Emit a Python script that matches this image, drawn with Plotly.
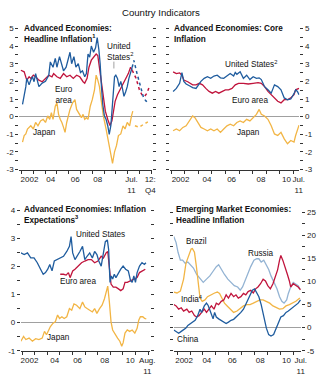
import plotly.graph_objects as go

W, H = 329, 389
FONT = "Liberation Sans, Arial, sans-serif"

BLUE = "#1f5c9e"
RED = "#c0143c"
ORANGE = "#f2b545"
LIGHTBLUE = "#93b3d3"

# ---------------- Panel 1: headline inflation (year, % y/y) ----------------
p1_us = [(2002.08, 0.69), (2002.22, 1.15), (2002.36, 1.7), (2002.44, 2.17), (2002.64, 1.8), (2002.78, 2.07),
         (2002.92, 2.26), (2003.06, 1.98), (2003.19, 2.44), (2003.47, 1.7), (2003.75, 1.9), (2004.03, 2.0),
         (2004.31, 2.35), (2004.44, 3.1), (2004.67, 2.8), (2004.86, 3.3), (2005.0, 2.8), (2005.22, 3.4),
         (2005.42, 3.0), (2005.56, 2.6), (2005.78, 2.8), (2005.97, 3.4), (2006.11, 3.65), (2006.25, 3.0),
         (2006.44, 3.4), (2006.61, 2.8), (2006.81, 3.0), (2007.0, 2.5), (2007.17, 2.6), (2007.36, 2.26),
         (2007.5, 2.44), (2007.64, 3.55), (2007.78, 3.37), (2007.92, 4.0), (2008.11, 3.65), (2008.28, 3.9),
         (2008.42, 4.48), (2008.56, 3.8), (2008.67, 3.0), (2008.78, 1.7), (2008.89, 0.7), (2009.03, 0.04),
         (2009.17, -0.15), (2009.31, -0.5), (2009.44, -1.0), (2009.58, -0.5), (2009.67, 0.2), (2009.78, 1.5),
         (2009.89, 2.26), (2010.0, 2.35), (2010.14, 2.17), (2010.28, 1.7), (2010.42, 2.0), (2010.56, 1.6),
         (2010.69, 1.15), (2010.83, 1.4), (2010.97, 1.7), (2011.11, 2.17), (2011.25, 2.54), (2011.39, 2.8)]
p1_ea = [(2001.94, 2.63), (2002.22, 2.54), (2002.44, 2.07), (2002.64, 2.26), (2002.78, 2.17), (2003.0, 2.35),
         (2003.19, 2.26), (2003.47, 2.07), (2003.75, 1.98), (2004.03, 2.17), (2004.31, 2.35), (2004.58, 2.26),
         (2004.72, 2.44), (2005.0, 2.26), (2005.28, 2.17), (2005.56, 2.44), (2005.83, 2.26), (2006.11, 2.35),
         (2006.39, 2.17), (2006.67, 2.35), (2006.94, 2.26), (2007.22, 1.98), (2007.36, 1.9), (2007.56, 2.17),
         (2007.72, 2.8), (2007.92, 3.2), (2008.11, 3.37), (2008.33, 3.55), (2008.47, 3.46), (2008.61, 2.8),
         (2008.75, 2.07), (2008.94, 0.96), (2009.11, 0.31), (2009.31, -0.15), (2009.5, -0.5), (2009.67, -0.24),
         (2009.78, 0.22), (2009.94, 0.87), (2010.14, 1.24), (2010.33, 1.5), (2010.5, 1.7), (2010.69, 1.9),
         (2010.89, 2.17), (2011.06, 2.44), (2011.25, 2.8), (2011.39, 2.63)]
p1_jp = [(2002.08, -1.44), (2002.22, -1.07), (2002.36, -0.98), (2002.5, -0.7), (2002.78, -0.52), (2003.0, -0.7),
         (2003.19, -0.33), (2003.39, -0.52), (2003.61, -0.24), (2003.83, -0.15), (2004.03, -0.33), (2004.22, 0.04),
         (2004.39, -0.15), (2004.53, 0.22), (2004.67, -0.15), (2004.86, 0.59), (2005.0, 0.78), (2005.14, 0.13),
         (2005.28, -0.15), (2005.42, -0.33), (2005.56, -0.61), (2005.69, -0.89), (2005.83, -0.33), (2005.97, 0.04),
         (2006.11, 0.41), (2006.33, 0.78), (2006.53, 0.96), (2006.67, 0.41), (2006.81, 0.22), (2006.94, 0.04),
         (2007.08, -0.06), (2007.22, 0.13), (2007.36, -0.15), (2007.5, -0.06), (2007.64, -0.15), (2007.83, 0.59),
         (2008.0, 0.96), (2008.19, 1.52), (2008.33, 2.35), (2008.47, 2.07), (2008.61, 1.7), (2008.75, 0.96),
         (2008.94, 0.04), (2009.17, -0.7), (2009.39, -1.44), (2009.58, -2.0), (2009.72, -2.65), (2009.89, -2.0),
         (2010.06, -1.63), (2010.22, -1.07), (2010.42, -0.98), (2010.61, -0.52), (2010.78, -0.7), (2010.97, -0.33),
         (2011.17, -0.52), (2011.33, 0.04), (2011.44, 0.31)]
p1_us_fc = [(2011.39, 2.8), (2011.53, 3.19), (2011.8, 2.44), (2012.08, 1.7), (2012.36, 1.06), (2012.58, 0.87),
            (2012.8, 0.96)]
p1_ea_fc = [(2011.39, 2.63), (2011.72, 2.17), (2012.0, 1.52), (2012.22, 1.24), (2012.44, 1.15), (2012.64, 1.33),
            (2012.85, 1.7)]
p1_jp_fc = [(2011.62, -0.52), (2012.0, -0.6), (2012.36, -0.43), (2012.72, -0.3)]
p1_xticks = [2002.67, 2004.47, 2006.56, 2008.46, 2011.33, 2012.92]
p1_xlabels = ["2002", "04", "06", "08", "Jul.<br>11", "12:<br>Q4"]

# ---------------- Panel 2: core inflation ----------------
p2_us = [(2002.14, 1.43), (2002.26, 1.52), (2002.38, 1.6), (2002.62, 1.89), (2002.79, 2.5), (2002.93, 2.0),
         (2003.1, 1.85), (2003.34, 1.75), (2003.58, 1.65), (2003.83, 1.6), (2003.95, 1.75), (2004.19, 2.0),
         (2004.43, 2.17), (2004.67, 2.26), (2004.91, 2.17), (2005.15, 2.3), (2005.39, 2.35), (2005.63, 2.2),
         (2005.87, 2.17), (2006.11, 2.3), (2006.35, 2.44), (2006.6, 2.3), (2006.72, 2.5), (2006.84, 2.4),
         (2007.08, 2.54), (2007.32, 2.17), (2007.56, 2.35), (2007.8, 2.1), (2008.04, 2.26), (2008.28, 2.17),
         (2008.48, 2.2), (2008.64, 2.1), (2008.88, 1.7), (2009.13, 1.52), (2009.37, 1.33), (2009.61, 1.8),
         (2009.85, 1.7), (2010.09, 1.52), (2010.33, 1.06), (2010.57, 0.96), (2010.81, 1.0), (2011.05, 1.3),
         (2011.17, 1.52), (2011.3, 1.43), (2011.42, 1.24)]
p2_ea = [(2002.14, 2.54), (2002.38, 2.44), (2002.62, 2.48), (2002.79, 2.35), (2002.93, 2.07), (2003.22, 1.98),
         (2003.58, 1.8), (2003.83, 1.8), (2004.07, 1.89), (2004.31, 1.8), (2004.55, 1.6), (2004.79, 1.43),
         (2005.03, 1.33), (2005.27, 1.43), (2005.51, 1.33), (2005.75, 1.43), (2005.99, 1.52), (2006.23, 1.52),
         (2006.48, 1.6), (2006.72, 1.8), (2006.96, 1.89), (2007.32, 1.89), (2007.68, 1.85), (2008.04, 1.89),
         (2008.4, 1.93), (2008.64, 1.89), (2008.88, 1.7), (2009.13, 1.43), (2009.37, 1.24), (2009.61, 1.06),
         (2009.85, 0.87), (2010.09, 0.78), (2010.33, 0.96), (2010.57, 0.96), (2010.81, 1.06), (2011.05, 1.24),
         (2011.17, 1.52), (2011.42, 1.6)]
p2_jp = [(2002.14, -0.8), (2002.38, -0.7), (2002.62, -0.8), (2002.86, -0.61), (2003.1, -0.52), (2003.34, -0.24),
         (2003.58, 0.04), (2003.75, -0.06), (2003.95, -0.33), (2004.19, -0.61), (2004.43, -0.7), (2004.67, -0.8),
         (2004.91, -0.7), (2005.15, -0.8), (2005.39, -0.7), (2005.63, -0.89), (2005.87, -0.7), (2006.11, -0.52),
         (2006.35, -0.43), (2006.6, -0.52), (2006.84, -0.33), (2007.08, -0.24), (2007.32, -0.33), (2007.56, -0.15),
         (2007.8, -0.24), (2008.04, -0.06), (2008.28, 0.13), (2008.48, 0.41), (2008.64, 0.13), (2008.88, 0.04),
         (2009.13, -0.15), (2009.37, -0.52), (2009.61, -0.98), (2009.85, -1.07), (2010.09, -0.89), (2010.33, -1.26),
         (2010.57, -1.54), (2010.81, -1.35), (2011.05, -1.44), (2011.17, -1.07), (2011.3, -0.7), (2011.42, -0.48)]
p2_xticks = [2002.69, 2004.64, 2006.45, 2008.62, 2010.5, 2011.4]
p2_xlabels = ["2002", "04", "06", "08", "10", "Jul.<br>11"]

# ---------------- Panel 3: inflation expectations ----------------
p3_us = [(2001.9, 2.48), (2002.16, 2.42), (2002.42, 2.48), (2002.68, 2.3), (2002.94, 2.3), (2003.2, 2.13),
         (2003.46, 1.9), (2003.67, 1.72), (2003.85, 1.78), (2004.03, 1.9), (2004.19, 2.07), (2004.37, 1.84),
         (2004.55, 2.19), (2004.76, 2.24), (2005.02, 2.3), (2005.28, 2.36), (2005.54, 2.53), (2005.75, 2.71),
         (2005.88, 3.06), (2006.01, 2.48), (2006.19, 2.24), (2006.37, 2.36), (2006.58, 2.53), (2006.79, 2.71),
         (2006.97, 2.24), (2007.15, 2.36), (2007.36, 2.48), (2007.57, 2.3), (2007.75, 2.53), (2007.93, 2.42),
         (2008.08, 2.19), (2008.27, 2.01), (2008.45, 2.48), (2008.6, 2.88), (2008.76, 2.94), (2008.86, 2.6),
         (2008.97, 1.43), (2009.07, 1.66), (2009.18, 1.55), (2009.31, 1.72), (2009.44, 1.6), (2009.64, 1.78),
         (2009.82, 1.9), (2010.01, 2.01), (2010.21, 1.9), (2010.42, 1.84), (2010.6, 1.49), (2010.73, 1.43),
         (2010.86, 1.66), (2010.99, 1.43), (2011.12, 1.78), (2011.31, 2.01), (2011.51, 2.13), (2011.7, 2.07),
         (2011.82, 2.13)]
p3_ea = [(2005.02, 1.72), (2005.28, 1.72), (2005.49, 1.69), (2005.67, 1.78), (2005.8, 1.6), (2006.01, 1.84),
         (2006.19, 1.9), (2006.45, 2.01), (2006.71, 2.13), (2006.97, 2.19), (2007.23, 2.24), (2007.49, 2.24),
         (2007.75, 2.13), (2008.01, 2.19), (2008.27, 2.36), (2008.45, 2.3), (2008.66, 2.48), (2008.79, 2.53),
         (2008.92, 2.01), (2009.05, 1.37), (2009.23, 1.26), (2009.44, 1.26), (2009.64, 1.2), (2009.82, 1.14),
         (2010.01, 1.2), (2010.16, 1.43), (2010.34, 1.43), (2010.6, 1.49), (2010.86, 1.55), (2011.12, 1.6),
         (2011.31, 1.78), (2011.51, 1.84), (2011.77, 1.9)]
p3_jp = [(2001.9, -0.66), (2002.11, -0.49), (2002.29, -0.6), (2002.55, -0.55), (2002.81, -0.66), (2003.07, -0.57),
         (2003.33, -0.6), (2003.59, -0.55), (2003.77, -0.31), (2003.93, -0.43), (2004.11, -0.26), (2004.24, -0.14),
         (2004.45, -0.02), (2004.63, 0.03), (2004.81, 0.27), (2004.97, 0.15), (2005.15, 0.21), (2005.33, 0.15),
         (2005.54, 0.21), (2005.75, 0.5), (2005.93, 0.44), (2006.11, 0.67), (2006.32, 0.62), (2006.58, 0.5),
         (2006.79, 0.73), (2006.97, 0.56), (2007.15, 0.5), (2007.36, 0.44), (2007.57, 0.38), (2007.75, 0.5),
         (2007.93, 0.33), (2008.14, 0.5), (2008.34, 0.62), (2008.53, 0.85), (2008.71, 1.2), (2008.79, 1.3),
         (2008.92, 0.73), (2009.05, 0.03), (2009.18, -0.26), (2009.38, -0.43), (2009.57, -0.55), (2009.75, -0.66),
         (2009.9, -0.84), (2010.01, -0.72), (2010.16, -0.37), (2010.34, -0.26), (2010.53, -0.31), (2010.73, -0.26),
         (2010.94, -0.37), (2011.12, -0.2), (2011.25, 0.09), (2011.38, 0.21), (2011.57, 0.21), (2011.72, 0.15),
         (2011.85, 0.13)]
p3_xticks = [2002.58, 2004.59, 2006.4, 2008.55, 2010.57, 2011.93]
p3_xlabels = ["2002", "04", "06", "08", "10", "Aug.<br>11"]

# ---------------- Panel 4: emerging market headline inflation ----------------
p4_russia = [(2001.74, 19.7), (2001.92, 18.4), (2002.07, 16.3), (2002.25, 14.6), (2002.42, 14.6), (2002.63, 13.9),
             (2002.83, 14.2), (2003.01, 13.6), (2003.26, 12.9), (2003.51, 11.5), (2003.77, 10.5), (2004.02, 9.8),
             (2004.27, 10.5), (2004.53, 11.2), (2004.78, 12.2), (2005.03, 13.2), (2005.21, 13.6), (2005.41, 12.6),
             (2005.66, 11.5), (2005.92, 10.5), (2006.17, 9.8), (2006.42, 9.1), (2006.68, 8.8), (2006.88, 8.1),
             (2007.06, 8.8), (2007.23, 10.1), (2007.44, 11.5), (2007.69, 13.2), (2007.94, 14.6), (2008.15, 14.9),
             (2008.32, 14.9), (2008.5, 14.2), (2008.7, 14.6), (2008.9, 13.6), (2009.08, 12.6), (2009.26, 11.2),
             (2009.46, 10.1), (2009.72, 8.4), (2009.92, 6.7), (2010.1, 5.7), (2010.27, 5.3), (2010.47, 6.0),
             (2010.6, 7.4), (2010.78, 8.8), (2010.98, 9.8), (2011.18, 9.5), (2011.36, 9.1), (2011.49, 8.4)]
p4_brazil = [(2001.74, 7.7), (2001.99, 7.5), (2002.25, 7.9), (2002.5, 10.5), (2002.68, 13.9), (2002.88, 15.6),
             (2003.08, 17.0), (2003.18, 17.1), (2003.34, 16.3), (2003.49, 13.2), (2003.64, 9.5), (2003.77, 6.4),
             (2003.94, 5.7), (2004.15, 6.0), (2004.35, 6.7), (2004.53, 7.0), (2004.7, 7.2), (2004.9, 7.5),
             (2005.11, 7.7), (2005.28, 7.4), (2005.46, 6.4), (2005.66, 5.3), (2005.87, 4.7), (2006.12, 4.0),
             (2006.37, 3.3), (2006.63, 3.6), (2006.88, 4.1), (2007.13, 4.7), (2007.39, 5.0), (2007.64, 5.0),
             (2007.89, 5.3), (2008.15, 5.7), (2008.4, 6.0), (2008.65, 6.0), (2008.9, 5.7), (2009.16, 5.3),
             (2009.41, 4.7), (2009.66, 4.3), (2009.92, 4.0), (2010.17, 4.1), (2010.42, 4.7), (2010.68, 5.0),
             (2010.93, 5.3), (2011.18, 5.7), (2011.49, 6.4)]
p4_india = [(2001.74, 5.0), (2001.92, 4.7), (2002.12, 4.0), (2002.32, 4.3), (2002.5, 3.6), (2002.75, 4.0),
            (2002.93, 3.3), (2003.13, 3.6), (2003.34, 2.6), (2003.51, 2.3), (2003.69, 2.6), (2003.89, 3.3),
            (2004.1, 4.0), (2004.27, 3.3), (2004.45, 4.0), (2004.65, 4.7), (2004.85, 4.0), (2005.03, 5.3),
            (2005.21, 5.0), (2005.41, 5.7), (2005.61, 6.0), (2005.79, 7.1), (2005.97, 6.4), (2006.17, 7.4),
            (2006.37, 6.7), (2006.55, 7.1), (2006.73, 6.4), (2006.93, 6.7), (2007.13, 7.4), (2007.31, 7.1),
            (2007.49, 7.8), (2007.69, 8.1), (2007.89, 7.5), (2008.07, 8.4), (2008.25, 8.8), (2008.45, 9.5),
            (2008.65, 10.5), (2008.83, 10.1), (2009.01, 9.1), (2009.21, 8.4), (2009.41, 9.5), (2009.59, 10.8),
            (2009.77, 12.5), (2009.92, 14.6), (2010.02, 15.6), (2010.17, 14.6), (2010.35, 13.2), (2010.53, 11.5),
            (2010.68, 10.1), (2010.78, 8.8), (2010.98, 9.5), (2011.18, 9.1), (2011.36, 8.8), (2011.54, 8.2)]
p4_china = [(2001.74, -0.5), (2001.92, -0.8), (2002.12, -1.2), (2002.32, -0.8), (2002.5, -0.5), (2002.68, -0.1),
            (2002.83, 0.5), (2003.01, 0.9), (2003.18, 1.2), (2003.39, 1.6), (2003.59, 2.6), (2003.77, 4.0),
            (2003.89, 3.3), (2004.1, 4.7), (2004.27, 5.3), (2004.4, 4.8), (2004.6, 3.3), (2004.78, 1.9),
            (2004.9, 3.3), (2005.03, 2.3), (2005.21, 1.9), (2005.41, 1.6), (2005.61, 1.2), (2005.79, 0.9),
            (2005.97, 1.2), (2006.17, 1.6), (2006.37, 1.8), (2006.55, 2.3), (2006.73, 2.6), (2006.93, 3.3),
            (2007.13, 4.0), (2007.31, 5.0), (2007.49, 6.0), (2007.69, 7.4), (2007.82, 8.1), (2007.99, 8.4),
            (2008.15, 7.7), (2008.32, 6.7), (2008.5, 5.0), (2008.7, 2.6), (2008.9, -0.1), (2009.08, -1.5),
            (2009.26, -1.8), (2009.46, -1.5), (2009.66, -0.1), (2009.84, 1.2), (2010.02, 2.3), (2010.22, 2.6),
            (2010.42, 3.3), (2010.6, 3.6), (2010.78, 4.0), (2010.98, 4.3), (2011.18, 4.7), (2011.36, 5.3),
            (2011.54, 6.0)]
p4_xticks = [2002.54, 2004.3, 2006.27, 2008.42, 2010.45, 2011.56]
p4_xlabels = ["2002", "04", "06", "08", "10", "Jul.<br>11"]


def PX(x):
    return x / W


def PY(y):
    return 1 - y / H


fig = go.Figure()


def line(series, color, xa, ya, dash="solid", width=1.3):
    fig.add_trace(go.Scatter(
        x=[p[0] for p in series], y=[p[1] for p in series], mode="lines",
        line=dict(color=color, width=width, dash=dash),
        xaxis=xa, yaxis=ya, showlegend=False, hoverinfo="skip"))


# panel 1
line(p1_jp, ORANGE, "x", "y")
line(p1_ea, RED, "x", "y")
line(p1_us, BLUE, "x", "y")
line(p1_jp_fc, ORANGE, "x", "y", "dot", 1.5)
line(p1_ea_fc, RED, "x", "y", "dot", 1.5)
line(p1_us_fc, BLUE, "x", "y", "dot", 1.5)
# panel 2
line(p2_jp, ORANGE, "x2", "y2")
line(p2_ea, RED, "x2", "y2")
line(p2_us, BLUE, "x2", "y2")
# panel 3
line(p3_jp, ORANGE, "x3", "y3")
line(p3_ea, RED, "x3", "y3")
line(p3_us, BLUE, "x3", "y3")
# panel 4
line(p4_russia, LIGHTBLUE, "x4", "y4")
line(p4_brazil, ORANGE, "x4", "y4")
line(p4_india, RED, "x4", "y4")
line(p4_china, BLUE, "x4", "y4")

TICKFONT = dict(family=FONT, size=8, color="#222")


def xaxis(domain, rng, tv, tt, anchor):
    return dict(domain=domain, range=rng, anchor=anchor, tickmode="array", tickvals=tv, ticktext=tt,
                tickangle=0, ticks="outside", ticklen=2, tickcolor="rgba(0,0,0,0)", showline=True,
                linecolor="#333", linewidth=1, showgrid=False, zeroline=False, tickfont=TICKFONT,
                fixedrange=True,
                minor=dict(tickmode="linear", tick0=2000, dtick=1, ticks="outside", ticklen=3,
                           tickcolor="#333", tickwidth=1, showgrid=False))


def yaxis(domain, rng, tv, minor_step, side, anchor):
    tt = [str(v) for v in tv]
    return dict(domain=domain, range=rng, anchor=anchor, side=side, tickmode="array", tickvals=tv,
                ticktext=tt, ticks="outside", ticklen=3, tickcolor="#333", tickwidth=1, mirror="ticks",
                showline=False, showgrid=False, zeroline=True, zerolinecolor="#a0a0a0", zerolinewidth=1,
                tickfont=TICKFONT, fixedrange=True,
                minor=dict(tickmode="linear", tick0=0, dtick=minor_step, ticks="outside", ticklen=3,
                           tickcolor="#333", tickwidth=1, showgrid=False))


fig.update_layout(
    width=W, height=H, margin=dict(l=0, r=0, t=0, b=0),
    paper_bgcolor="white", plot_bgcolor="white",
    font=dict(family=FONT, size=9, color="#222"),
    xaxis=xaxis([PX(19.7), PX(154.7)], [2001.81, 2013.06], p1_xticks, p1_xlabels, "y"),
    yaxis=yaxis([PY(169.5), PY(25)], [-3, 5], [-3, -2, -1, 0, 1, 2, 3, 4, 5], 0.5, "left", "x"),
    xaxis2=xaxis([PX(173), PX(305)], [2001.9, 2011.45], p2_xticks, p2_xlabels, "y2"),
    yaxis2=yaxis([PY(169.5), PY(25)], [-3, 5], [-3, -2, -1, 0, 1, 2, 3, 4, 5], 0.5, "right", "x2"),
    xaxis3=xaxis([PX(21.3), PX(153)], [2001.9, 2012.16], p3_xticks, p3_xlabels, "y3"),
    yaxis3=yaxis([PY(355), PY(211)], [-1, 4], [-1, 0, 1, 2, 3, 4], 0.5, "left", "x3"),
    xaxis4=xaxis([PX(177), PX(307)], [2001.74, 2011.61], p4_xticks, p4_xlabels, "y4"),
    yaxis4=yaxis([PY(355), PY(213)], [-5, 25], [-5, 0, 5, 10, 15, 20, 25], 2.5, "right", "x4"),
)

ann = []


def text(x, y, s, size=8.2, anchor="left", bold=False, vanchor="middle"):
    if bold:
        s = "<b>" + s + "</b>"
    ann.append(dict(x=PX(x), y=PY(y), xref="paper", yref="paper", text=s, showarrow=False,
                    xanchor=anchor, yanchor=vanchor, align=anchor if anchor != "center" else "center",
                    font=dict(family=FONT, size=size, color="#111")))


TS = 8.2
# chart title
text(164, 9, "Country Indicators", size=9.6, anchor="center")
# panel titles
text(22, 18, "Advanced Economies:<br>Headline Inflation<sup>1</sup>", size=TS, bold=True, vanchor="top")
text(175, 18, "Advanced Economies: Core<br>Inflation", size=TS, bold=True, vanchor="top")
text(22, 203.5, "Advanced Economies: Inflation<br>Expectations<sup>3</sup>", size=TS, bold=True, vanchor="top")
text(177, 203.5, "Emerging Market Economies:<br>Headline Inflation", size=TS, bold=True, vanchor="top")
# series labels
text(107, 37, "United<br>States<sup>2</sup>", vanchor="top")
text(65, 81, "Euro<br>area", anchor="center", vanchor="top")
text(45, 131.5, "Japan", anchor="center")
text(227, 61.5, "United States<sup>2</sup>")
text(255, 98.5, "Euro area", anchor="center")
text(253.5, 131.5, "Japan", anchor="center")
text(102.5, 235.5, "United States", anchor="center")
text(79.5, 284.5, "Euro area", anchor="center")
text(60, 341.5, "Japan", anchor="center")
text(200.5, 243.5, "Brazil", anchor="center")
text(265, 255, "Russia", anchor="center")
text(182.5, 301.5, "India<sup>4</sup>")
text(192, 343.5, "China", anchor="center")

fig.update_layout(annotations=ann)
fig.add_shape(type="line", xref="paper", yref="paper", x0=PX(116), x1=PX(116), y0=PY(59), y1=PY(66),
              line=dict(color="#888", width=0.8))

fig.write_html("out.html")
